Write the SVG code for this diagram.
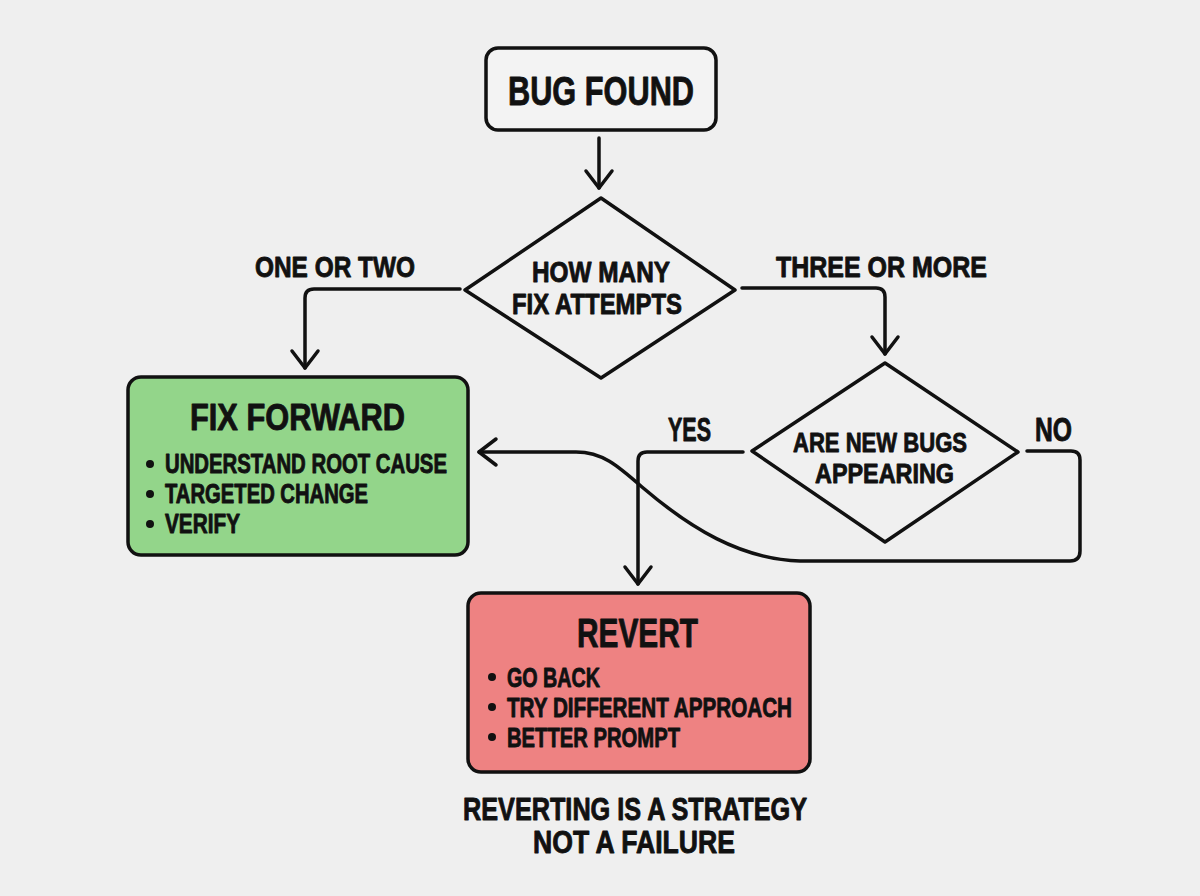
<svg xmlns="http://www.w3.org/2000/svg" width="1200" height="896" viewBox="0 0 1200 896">
<defs>
<style>
.bg{fill:#efefef}
.box{stroke:#111;stroke-width:3.5;stroke-linejoin:round}
.plain{fill:#f3f3f3}
.green{fill:#93d58a}
.red{fill:#ee8282}
.dia{fill:#f0f0f0;stroke:#111;stroke-width:3.5;stroke-linejoin:round}
.t{font-family:"Liberation Sans",Arial,sans-serif;font-weight:bold;fill:#111;stroke:#111;stroke-width:0.9;stroke-linejoin:round}
.c{stroke:#111;stroke-width:3.5;fill:none;stroke-linecap:round;stroke-linejoin:round}
.dot{fill:#111}
</style>
<marker id="arr" viewBox="-20 -16 24 32" refX="0" refY="0" markerWidth="24" markerHeight="32" markerUnits="userSpaceOnUse" orient="auto" overflow="visible">
<path d="M-17,-13 L0,0 L-17,13" fill="none" stroke="#111" stroke-width="3.5" stroke-linecap="round" stroke-linejoin="round"/>
</marker>
</defs>
<rect class="bg" x="0" y="0" width="1200" height="896"/>

<g id="connectors">
<path class="c" d="M599,138 V188" marker-end="url(#arr)"/>
<path class="c" d="M460,289 H314 Q305,289 305,298 V368" marker-end="url(#arr)"/>
<path class="c" d="M742,288 H876 Q885,288 885,297 V354" marker-end="url(#arr)"/>
<path class="c" d="M743,452 H647 Q638,452 638,461 V584" marker-end="url(#arr)"/>
<path class="c" d="M1027,451 H1071 Q1080,451 1080,460 V551 Q1080,561 1070,561 H800 C740,559 690,528 642,487 C617,465 602,452 576,452 H479" marker-end="url(#arr)"/>
</g>

<g id="label-one-or-two"><text class="t" x="255" y="277" font-size="30" textLength="160" lengthAdjust="spacingAndGlyphs">ONE OR TWO</text></g>
<g id="label-three-or-more"><text class="t" x="776" y="277" font-size="30" textLength="211" lengthAdjust="spacingAndGlyphs">THREE OR MORE</text></g>
<g id="label-yes"><text class="t" x="668" y="441" font-size="33" textLength="43" lengthAdjust="spacingAndGlyphs">YES</text></g>
<g id="label-no"><text class="t" x="1035" y="441" font-size="33" textLength="37" lengthAdjust="spacingAndGlyphs">NO</text></g>

<g id="bug-found">
<rect class="box plain" x="486" y="48" width="230" height="82" rx="12"/>
<text class="t" x="508" y="105" font-size="41" textLength="186" lengthAdjust="spacingAndGlyphs">BUG FOUND</text>
</g>

<g id="how-many">
<polygon class="dia" points="601,198 735,290 601,378 465,290"/>
<text class="t" x="532" y="282" font-size="29" textLength="138" lengthAdjust="spacingAndGlyphs">HOW MANY</text>
<text class="t" x="512" y="314" font-size="29" textLength="170" lengthAdjust="spacingAndGlyphs">FIX ATTEMPTS</text>
</g>

<g id="fix-forward">
<rect class="box green" x="128" y="377" width="340" height="178" rx="13"/>
<text class="t" x="190" y="430" font-size="37" textLength="215" lengthAdjust="spacingAndGlyphs">FIX FORWARD</text>
<circle class="dot" cx="150" cy="464" r="4"/>
<text class="t" x="165" y="473" font-size="27" textLength="282" lengthAdjust="spacingAndGlyphs">UNDERSTAND ROOT CAUSE</text>
<circle class="dot" cx="150" cy="494" r="4"/>
<text class="t" x="165" y="503" font-size="27" textLength="203" lengthAdjust="spacingAndGlyphs">TARGETED CHANGE</text>
<circle class="dot" cx="150" cy="524" r="4"/>
<text class="t" x="165" y="533" font-size="27" textLength="75" lengthAdjust="spacingAndGlyphs">VERIFY</text>
</g>

<g id="new-bugs">
<polygon class="dia" points="885,363 1018,452 885,542 752,451"/>
<text class="t" x="793" y="452" font-size="28" textLength="174" lengthAdjust="spacingAndGlyphs">ARE NEW BUGS</text>
<text class="t" x="815" y="483" font-size="28" textLength="139" lengthAdjust="spacingAndGlyphs">APPEARING</text>
</g>

<g id="revert">
<rect class="box red" x="468" y="593" width="342" height="179" rx="13"/>
<text class="t" x="577" y="647" font-size="41" textLength="121" lengthAdjust="spacingAndGlyphs">REVERT</text>
<circle class="dot" cx="492" cy="677" r="4"/>
<text class="t" x="507" y="687" font-size="28" textLength="93" lengthAdjust="spacingAndGlyphs">GO BACK</text>
<circle class="dot" cx="492" cy="707" r="4"/>
<text class="t" x="507" y="717" font-size="28" textLength="285" lengthAdjust="spacingAndGlyphs">TRY DIFFERENT APPROACH</text>
<circle class="dot" cx="492" cy="737" r="4"/>
<text class="t" x="507" y="747" font-size="28" textLength="173" lengthAdjust="spacingAndGlyphs">BETTER PROMPT</text>
</g>

<g id="caption">
<text class="t" x="463" y="820" font-size="32" textLength="344" lengthAdjust="spacingAndGlyphs">REVERTING IS A STRATEGY</text>
<text class="t" x="533" y="853" font-size="32" textLength="202" lengthAdjust="spacingAndGlyphs">NOT A FAILURE</text>
</g>
</svg>
